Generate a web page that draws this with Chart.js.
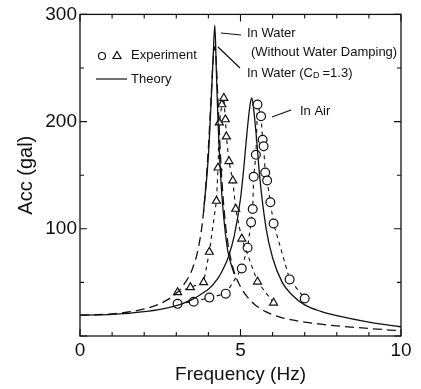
<!DOCTYPE html>
<html><head><meta charset="utf-8">
<style>html,body{margin:0;padding:0;background:#fff}#wrap{width:421px;height:389px}</style>
<script src="https://cdn.jsdelivr.net/npm/chart.js@4/dist/chart.umd.min.js"></script>
</head><body><div id="wrap"><canvas id="c" width="421" height="389"></canvas></div>
<script>
// ---- data ----
const theoryFreq = [0, 0.5, 1, 1.5, 2, 2.5, 3, 3.25, 3.5, 3.7, 3.85, 4.0, 4.1, 4.15, 4.2, 4.25, 4.3, 4.4, 4.5, 4.6, 4.8, 5.0, 5.1, 5.2, 5.3, 5.35, 5.4, 5.5, 5.6, 5.8, 6.0, 6.3, 6.6, 7.0, 7.5, 8.0, 9.0, 10];
const waterCdTheory = [19.5, 19.8, 20.7, 22.4, 25.2, 30.2, 39.8, 48.6, 62.5, 84, 116, 176, 232, 259, 270, 252, 218, 155, 114, 88, 60, 46, 41, 37, 33.5, 32, 30.5, 28, 26, 22.5, 20, 17, 15, 13, 11, 9.5, 7, 4.8];
const airTheory = [19.5, 19.7, 20.2, 21.2, 22.7, 24.9, 28.4, 31, 34.1, 37.5, 40.5, 43.7, 46.5, 48, 50, 52, 54, 59, 65, 72, 92.6, 128, 156, 189, 216, 222, 214, 184, 148, 100, 73, 50, 38.5, 29, 23, 19, 13, 8.6];
const noDampFreq = [3.85, 4.0, 4.1, 4.15, 4.2, 4.25, 4.3, 4.4, 4.5, 4.6, 4.8];
const waterNoDampTheory = [116, 168, 228, 262, 290, 245, 200, 140, 104, 80, 58];
const waterExpFreq = [3.04, 3.44, 3.85, 4.03, 4.25, 4.30, 4.34, 4.42, 4.48, 4.53, 4.56, 4.64, 4.76, 4.85, 5.04, 5.53, 6.03];
const waterExpAcc  = [40.7, 45.4, 50, 78.4, 126, 157, 199, 216, 222, 202, 186, 163, 145, 118.5, 90.7, 50.6, 31];
const airExpFreq = [3.04, 3.54, 4.03, 4.54, 5.04, 5.22, 5.33, 5.38, 5.41, 5.48, 5.53, 5.64, 5.69, 5.72, 5.77, 5.83, 5.93, 6.03, 6.53, 7.0];
const airExpAcc  = [30, 32, 35.8, 39.5, 63, 82.4, 106, 118.5, 148.5, 169, 216, 205, 183, 177, 152.5, 145, 124.7, 105, 52.8, 35];
const xTickLabels = [0, 5, 10];
const yTickLabels = [100, 200, 300];

const FONT = '"Liberation Sans", Arial, Helvetica, sans-serif';
const INK = '#111';
const pts = (xs, ys) => xs.map((x, i) => ({x: x, y: ys[i]}));

const decor = {
  id: 'decor',
  afterDraw(chart) {
    const ctx = chart.ctx, a = chart.chartArea;
    const xs = chart.scales.x, ys = chart.scales.y;
    ctx.save();
    ctx.strokeStyle = INK; ctx.fillStyle = INK; ctx.lineWidth = 1.3; ctx.setLineDash([]);
    ctx.strokeRect(a.left, a.top, a.right - a.left, a.bottom - a.top);
    ctx.lineWidth = 1.1;
    ctx.beginPath();
    for (let f = 0; f <= 10; f++) {
      const px = xs.getPixelForValue(f), len = f % 5 === 0 ? 7 : 4;
      ctx.moveTo(px, a.bottom); ctx.lineTo(px, a.bottom - len);
      ctx.moveTo(px, a.top); ctx.lineTo(px, a.top + len);
    }
    for (let v = 0; v <= 300; v += 50) {
      const py = ys.getPixelForValue(v), len = v % 100 === 0 ? 7 : 4;
      ctx.moveTo(a.left, py); ctx.lineTo(a.left + len, py);
      ctx.moveTo(a.right, py); ctx.lineTo(a.right - len, py);
    }
    ctx.stroke();

    // legend
    ctx.lineWidth = 1.2;
    ctx.beginPath(); ctx.arc(102, 56, 3.5, 0, Math.PI * 2); ctx.stroke();
    ctx.beginPath(); ctx.moveTo(117, 51.5); ctx.lineTo(121, 58.5); ctx.lineTo(113, 58.5); ctx.closePath(); ctx.stroke();
    ctx.beginPath(); ctx.moveTo(96, 79); ctx.lineTo(127, 79); ctx.stroke();
    ctx.font = '13px ' + FONT; ctx.textBaseline = 'middle'; ctx.textAlign = 'left';
    ctx.fillText('Experiment', 131, 55);
    ctx.fillText('Theory', 131, 79);

    // annotations
    ctx.fillText('In Water', 247, 33);
    ctx.fillText('(Without Water Damping)', 251, 52);
    let x = 247;
    ctx.fillText('In Water (C', x, 73);
    x += ctx.measureText('In Water (C').width;
    ctx.font = '9px ' + FONT;
    ctx.fillText('D', x, 76);
    x += ctx.measureText('D').width + 3;
    ctx.font = '13px ' + FONT;
    ctx.fillText('=1.3)', x, 73);
    ctx.fillText('In Air', 300, 111);
    ctx.beginPath();
    ctx.moveTo(221, 33); ctx.lineTo(241, 35);
    ctx.moveTo(218, 47); ctx.lineTo(240, 68);
    ctx.moveTo(272, 117); ctx.lineTo(291, 110);
    ctx.stroke();
    ctx.restore();
  }
};

const lineBase = {borderColor: INK, borderWidth: 1.3, pointRadius: 0, fill: false};

new Chart(document.getElementById('c'), {
  type: 'line',
  data: {
    datasets: [
      Object.assign({label: 'In Air (theory)', data: pts(theoryFreq, airTheory), cubicInterpolationMode: 'monotone'}, lineBase),
      Object.assign({label: 'In Water C_D=1.3 (theory)', data: pts(theoryFreq, waterCdTheory), cubicInterpolationMode: 'monotone', borderDash: [9, 5]}, lineBase),
      Object.assign({label: 'In Water without damping (theory)', data: pts(noDampFreq, waterNoDampTheory), cubicInterpolationMode: 'monotone'}, lineBase),
      {label: 'In Water (experiment)', data: pts(waterExpFreq, waterExpAcc), borderColor: INK, borderWidth: 1.1, borderDash: [4, 4], tension: 0,
       pointStyle: 'triangle', pointRadius: 4.6, pointBorderWidth: 1.2, pointBackgroundColor: '#fff', pointBorderColor: INK, fill: false},
      {label: 'In Air (experiment)', data: pts(airExpFreq, airExpAcc), borderColor: INK, borderWidth: 1.1, borderDash: [4, 4], tension: 0,
       pointStyle: 'circle', pointRadius: 4.4, pointBorderWidth: 1.2, pointBackgroundColor: '#fff', pointBorderColor: INK, fill: false}
    ]
  },
  options: {
    responsive: false, animation: false, devicePixelRatio: 1,
    layout: {padding: {top: 13, right: 20, left: 0, bottom: 0}},
    plugins: {legend: {display: false}, tooltip: {enabled: false}},
    scales: {
      x: {type: 'linear', min: 0, max: 10,
        afterBuildTicks: s => { s.ticks = xTickLabels.map(v => ({value: v})); },
        afterFit: s => { s.height = 53; },
        grid: {display: false, drawTicks: false}, border: {display: false},
        ticks: {font: {family: FONT, size: 19}, color: INK, padding: 3, maxRotation: 0, autoSkip: false},
        title: {display: true, text: 'Frequency (Hz)', font: {family: FONT, size: 19}, color: INK, padding: {top: 0, bottom: 3}}
      },
      y: {type: 'linear', min: 0, max: 300,
        afterBuildTicks: s => { s.ticks = yTickLabels.map(v => ({value: v})); },
        afterFit: s => { s.width = 80; },
        grid: {display: false, drawTicks: false}, border: {display: false},
        ticks: {font: {family: FONT, size: 19}, color: INK, padding: 3},
        title: {display: true, text: 'Acc (gal)', font: {family: FONT, size: 20}, color: INK, padding: {top: 14, bottom: 0}}
      }
    }
  },
  plugins: [decor]
});
</script></body></html>
